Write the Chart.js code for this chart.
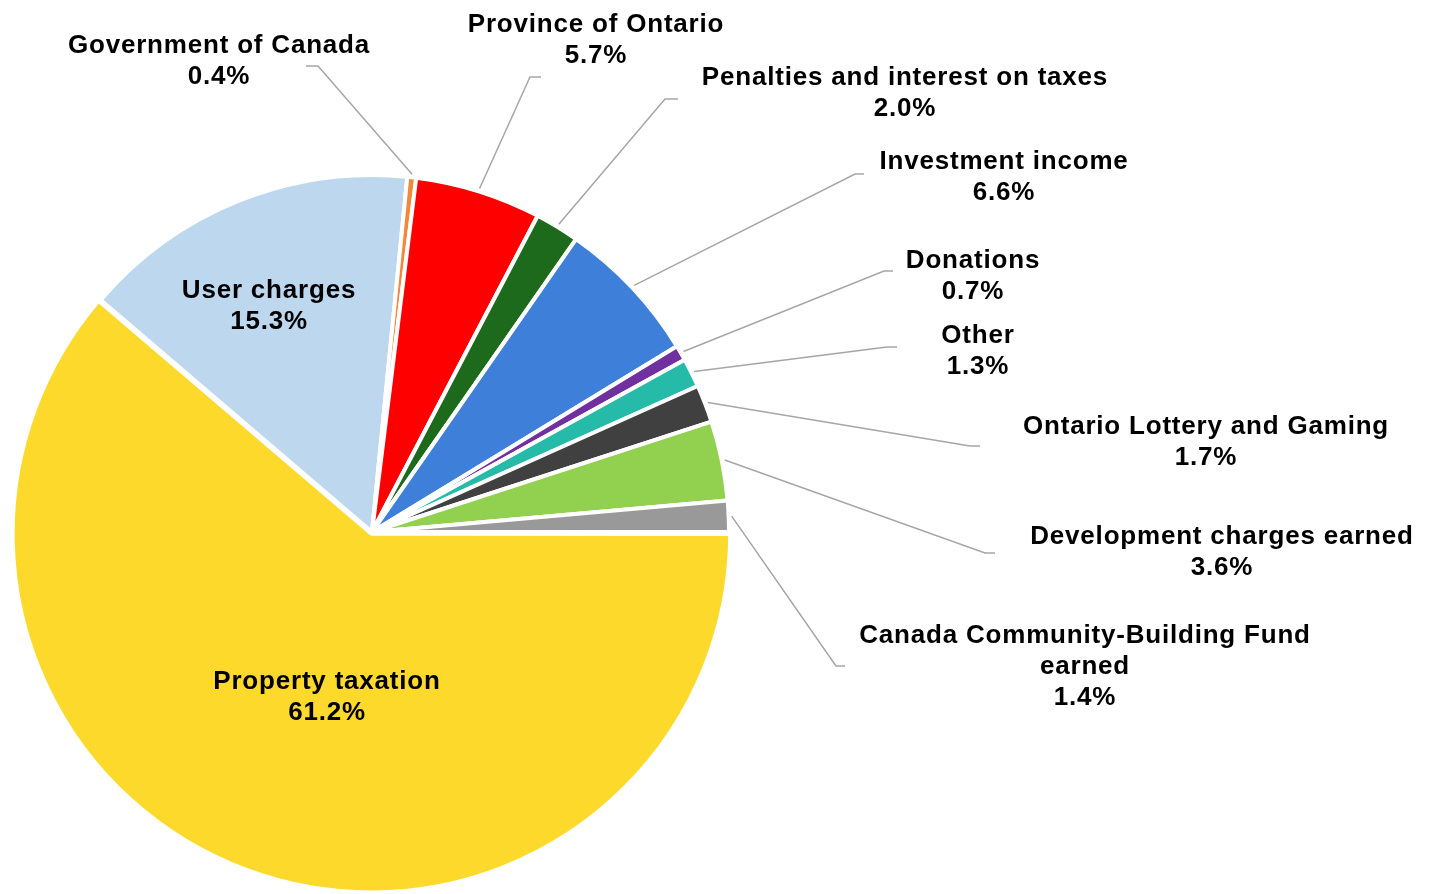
<!DOCTYPE html>
<html>
<head>
<meta charset="utf-8">
<script src="https://cdn.jsdelivr.net/npm/chart.js@4"></script>
<style>
  html, body { margin: 0; padding: 0; background: #fff; }
  #wrap { width: 1443px; height: 894px; }
</style>
</head>
<body>
<div id="wrap"><canvas id="revenueChart" width="1443" height="894"></canvas></div>
<script>
// Revenue sources, percent of total
const categories = [
  "Property taxation",
  "User charges",
  "Government of Canada",
  "Province of Ontario",
  "Penalties and interest on taxes",
  "Investment income",
  "Donations",
  "Other",
  "Ontario Lottery and Gaming",
  "Development charges earned",
  "Canada Community-Building Fund earned"
];
const shares = [61.2, 15.3, 0.4, 5.7, 2.0, 6.6, 0.7, 1.3, 1.7, 3.6, 1.4];

const sliceColors = [
  "#FDD92B", "#BDD7EE", "#F4883A", "#FF0000", "#1D6A1D", "#3E7FDA",
  "#7030A0", "#26BBA8", "#404040", "#92D050", "#999999"
];

// where each label sits (text centre x, first baseline y) and, for the
// outside ones, the elbow and end of the leader line
const labelLayout = [
  { x: 327, y: 689 },
  { x: 269, y: 298 },
  { x: 219, y: 53, bend: [318, 66], end: 306 },
  { x: 596, y: 32, bend: [530, 77], end: 541 },
  { x: 905, y: 85, bend: [665, 99], end: 678 },
  { x: 1004, y: 169, bend: [855, 174], end: 864 },
  { x: 973, y: 268, bend: [884, 271], end: 893 },
  { x: 978, y: 343, bend: [887, 347], end: 897 },
  { x: 1206, y: 434, bend: [970, 446], end: 980 },
  { x: 1222, y: 544, bend: [985, 553], end: 995 },
  { x: 1085, y: 643, bend: [836, 666], end: 845, wrap: true }
];

const lineStep = 31;

const pieLabels = {
  id: "pieLabels",
  afterDatasetsDraw(chart) {
    const ctx = chart.ctx;
    const arcs = chart.getDatasetMeta(0).data;
    ctx.save();
    arcs.forEach((arc, i) => {
      const lay = labelLayout[i];
      if (lay.bend) {
        const mid = (arc.startAngle + arc.endAngle) / 2;
        const r = arc.outerRadius + 3;
        ctx.beginPath();
        ctx.strokeStyle = "#A6A6A6";
        ctx.lineWidth = 1.5;
        ctx.moveTo(arc.x + Math.cos(mid) * r, arc.y + Math.sin(mid) * r);
        ctx.lineTo(lay.bend[0], lay.bend[1]);
        ctx.lineTo(lay.end, lay.bend[1]);
        ctx.stroke();
      }

      let lines = [categories[i]];
      if (lay.wrap) {
        const cut = categories[i].lastIndexOf(" ");
        lines = [categories[i].slice(0, cut), categories[i].slice(cut + 1)];
      }
      lines.push(shares[i].toFixed(1) + "%");

      ctx.fillStyle = "#000";
      ctx.font = 'bold 26px "Liberation Sans", Arial, sans-serif';
      ctx.letterSpacing = "0.8px";
      ctx.textAlign = "center";
      ctx.textBaseline = "alphabetic";
      lines.forEach((t, k) => {
        ctx.fillText(t, lay.x, lay.y + k * lineStep);
      });
    });
    ctx.restore();
  }
};

new Chart(document.getElementById("revenueChart"), {
  type: "pie",
  data: {
    labels: categories,
    datasets: [{
      data: shares,
      backgroundColor: sliceColors,
      borderColor: "#fff",
      borderWidth: 4,
      offset: [7, 0, 0, 0, 0, 0, 0, 0, 0, 0, 0],
      radius: 357
    }]
  },
  options: {
    responsive: false,
    animation: false,
    rotation: 90,
    layout: { padding: { left: 0, right: 699, top: 170, bottom: 0 } },
    events: [],
    plugins: {
      legend: { display: false },
      tooltip: { enabled: false }
    }
  },
  plugins: [pieLabels]
});
</script>
</body>
</html>
